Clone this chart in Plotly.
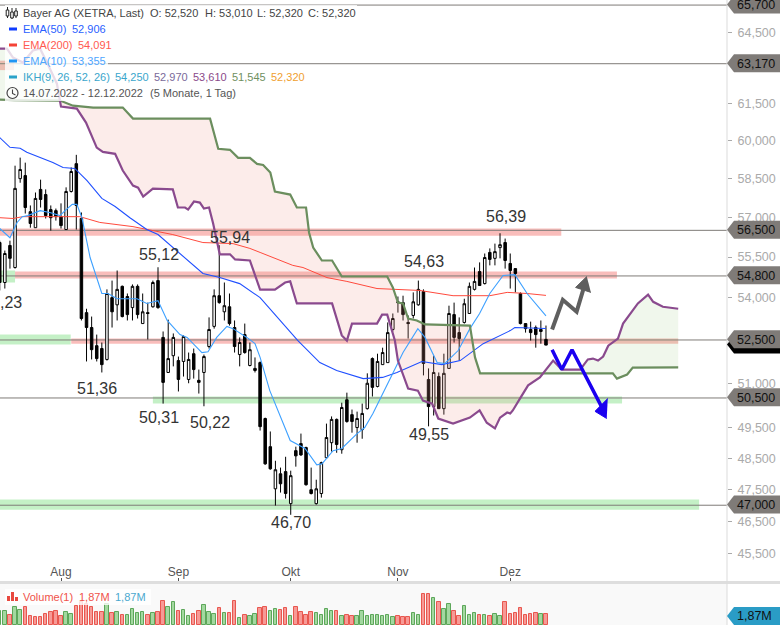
import plotly.graph_objects as go
import numpy as np

W, H = 780, 625
# ---------- OHLC (prices) ----------
opens = [56.04,54.56,55.93,55.11,58.49,58.61,57.21,56.6,58.07,57.87,57.29,57.25,57.02,56.53,57.99,59.08,56.95,53.47,52.94,52.3,
 52.2,51.82,54.01,53.75,54.42,54.05,53.65,54.42,53.08,53.47,53.68,54.63,52.59,51.37,51.95,51.78,51.75,51.13,52.02,51.1,
 51.37,52.27,52.98,54.08,53.5,53.68,52.94,51.99,52.69,51.61,51.51,51.71,49.81,48.88,47.52,48.0,48.07,47.05,48.75,48.98,
 48.85,47.49,47.05,47.37,48.52,49.01,49.78,48.78,50.44,49.94,49.51,49.44,50.14,51.85,50.89,51.64,51.71,52.87,53.86,53.83,
 53.12,53.37,53.75,54.23,51.13,50.21,51.23,50.14,51.51,53.4,52.76,53.12,53.44,54.31,54.96,54.52,55.67,55.45,55.85,56.04,
 55.26,55.07,54.16,53.08,52.87,52.94,52.87,52.52]
highs = [56.11,55.74,56.11,59.0,59.32,59.12,57.45,57.95,58.45,58.07,57.45,57.33,57.53,58.15,58.93,59.43,57.18,53.61,53.33,52.69,
 52.41,54.31,54.63,55.0,54.45,54.16,54.49,54.49,54.16,53.83,54.63,55.12,52.8,53.22,52.73,51.92,52.66,52.06,52.2,51.47,
 51.99,53.3,54.31,55.94,54.56,54.16,53.19,52.59,53.08,52.41,51.89,51.75,49.84,49.38,48.42,48.2,48.55,48.1,48.88,49.31,
 48.88,48.2,47.81,48.39,49.64,49.88,49.81,50.34,50.68,50.11,50.04,50.31,51.34,51.89,52.02,52.23,53.12,53.44,54.05,54.08,
 53.37,54.2,54.63,54.31,51.51,51.95,51.37,52.02,53.72,53.83,53.3,53.97,54.56,55.11,55.3,55.63,55.82,56.0,56.39,56.19,
 55.63,55.07,54.2,53.08,53.15,53.01,53.19,53.01]
lows = [54.27,54.34,55.07,55.07,58.33,57.14,56.6,56.6,57.37,56.95,56.49,56.87,56.57,56.53,57.95,56.53,53.19,51.75,51.82,51.75,
 51.37,51.78,52.94,53.19,53.3,53.19,53.19,53.26,53.08,52.52,53.65,53.61,50.31,51.37,51.58,50.72,51.23,51.0,51.16,50.65,
 50.22,52.2,52.9,53.79,53.19,53.01,52.06,51.58,52.02,51.58,51.37,49.41,48.29,48.13,46.99,47.4,47.21,46.7,48.23,48.58,
 47.62,47.34,47.02,47.24,48.49,48.72,48.68,48.65,49.67,49.34,49.01,49.14,50.11,50.55,50.86,51.64,51.71,52.8,53.47,53.19,
 52.55,53.26,53.72,51.27,49.55,49.91,50.14,49.94,51.51,52.41,51.78,53.08,53.44,54.27,54.45,54.49,55.19,55.19,55.45,55.07,
 54.34,54.2,53.05,52.76,52.48,52.23,52.37,52.32]
closes = [54.56,55.63,55.45,58.11,58.85,57.37,56.76,57.72,57.68,57.06,56.98,57.02,56.68,57.99,58.77,57.45,53.26,52.94,52.16,51.85,
 51.64,54.16,53.5,54.31,53.33,53.4,54.42,53.4,53.5,53.44,54.56,53.65,51.03,51.85,52.59,51.13,52.62,51.82,51.47,51.03,
 51.92,52.87,54.08,53.83,53.72,53.08,52.27,52.41,52.06,52.16,51.44,49.54,48.32,48.16,48.13,47.68,47.37,47.94,48.58,48.61,
 47.65,47.37,47.52,48.36,49.18,49.78,48.95,50.18,49.71,49.71,49.81,49.98,51.0,50.86,51.75,52.06,52.76,53.26,53.83,53.4,
 53.08,53.86,54.31,51.68,50.21,51.37,50.14,51.34,53.44,52.59,52.55,53.79,54.42,54.6,54.45,55.48,55.41,55.7,55.96,55.37,
 55.0,54.89,53.08,52.9,52.76,52.69,52.8,52.32]
volumes = [2.45,2.45,1.75,3.10,2.63,3.10,1.58,1.34,1.34,1.87,2.28,2.45,1.58,2.28,1.93,3.33,4.09,3.62,3.10,2.28,
 2.28,3.62,2.10,2.28,1.75,1.75,2.74,2.04,2.28,1.75,2.04,2.28,4.20,3.15,3.97,2.39,2.63,1.58,1.93,2.39,
 3.50,2.28,1.93,2.98,2.10,2.10,4.20,1.17,1.75,1.58,1.93,2.98,3.15,2.45,2.80,2.63,2.98,1.58,3.15,2.28,
 1.75,2.28,2.10,1.75,2.80,2.45,2.45,1.58,1.75,1.58,1.58,2.45,1.58,1.75,1.75,1.58,1.75,1.40,1.58,1.34,
 1.34,2.04,1.75,5.37,5.37,4.67,3.97,2.74,3.62,2.39,1.58,3.27,1.75,2.04,1.75,1.75,1.58,1.93,1.58,3.97,
 1.87,2.04,2.92,1.75,1.93,2.04,1.87,1.87]
volume_dir = "GGRGGRRRRRRRRGGRRRRRRGRGRGGGGRGRRGGRGGRRGGGRGRRGRGGRRGGRRGRRRRGGGGRGRRGGGGGGGGRRRGGRRGRGGRRGGGRGRGGRRRRRRRGR"

# ---------- moving averages (bar index, price) ----------
ema50_i = [0,2,4,5.3,10.4,12.4,14.7,17.1,20,22.6,25.5,28.8,31,32.8,35.9,39.8,43.1,47,51,54.9,58.4,62.7,66,71.2,75,77.8,82.7,86.6,90.2,94.7,100,100.9,107]
ema50_p = [60.12,59.73,59.69,59.53,59.13,58.93,58.89,58.41,57.72,57.41,56.98,56.53,56.34,56.04,55.56,54.89,54.74,54.52,54.01,53.19,52.48,51.71,51.44,51.16,51.2,51.37,51.75,51.64,51.78,52.37,52.83,52.94,52.906]
ema200_i = [0,2.6,4.5,15.7,19.6,26.1,33.9,39.8,45.7,49,51,57.4,59.4,64.1,68,73.9,82.3,88.8,96,99.4,103.3,107]
ema200_p = [56.98,56.95,57.02,57.02,56.8,56.64,56.34,56.04,56.0,55.82,55.67,55.19,55.11,54.74,54.6,54.34,54.27,54.08,54.08,54.2,54.16,54.091]
ema10_i = [0,2,3.4,4.4,5.5,7.9,9.8,11.8,12.8,14.2,15.1,16.1,17.7,20,21.2,23,24.9,26.9,28.8,31,32.8,35.3,36.7,39.6,40.8,42.5,44.5,45.7,48.4,50,51,52.9,56.9,59.8,62.1,63.1,65.3,67,70,71.5,73.1,75.1,77,79,81.9,83.3,85.7,87.2,89.8,92.1,94,96,98.6,100.9,103.3,107]
ema10_p = [56.57,56.22,56.8,57.02,57.06,57.25,57.18,57.06,57.25,57.49,57.49,56.98,55.48,54.16,54.16,53.97,53.97,53.97,53.8,53.9,53.19,52.69,52.59,52.06,52.09,52.59,52.98,52.9,52.59,52.37,51.89,50.75,49.08,48.82,48.29,48.32,48.75,48.82,49.31,49.51,49.98,50.65,51.34,52.06,52.9,52.59,51.71,51.68,52.13,52.9,53.44,54.16,54.82,54.85,54.16,53.355]

# ---------- Ichimoku cloud edges ----------
span_a_i = [0,1.42,2.6,4.56,6.5,7.9,9.26,11.2,12,15.1,16.9,19,20.2,22.6,24.1,26.1,27.1,28.1,30,33.9,34.9,36.3,36.9,38.05,39.2,40,41,41.8,43.1,45.1,46.1,49,51,53.9,55.9,56.9,58.2,65.1,67,68,69,73.9,74.9,75.9,77.4,78,80,81.9,82.9,84.7,85.9,88.8,92.1,94,95.4,97,98,99.4,100,100.5,101.9,103.5,105.8,108.4,110.1,113.7,115.2,116.2,117.2,118.2,119.2,121.1,122.1,125,127,128,129.9,132.9]
span_a_p = [63.81,63.81,63.43,63.22,63.73,63.81,63.22,62.33,61.38,61.3,60.73,59.72,59.55,59.47,58.81,58.22,58.14,57.79,58.1,58.07,57.37,57.37,57.29,57.6,57.56,57.33,57.37,56.76,55.6,55.6,55.41,55.37,54.3,54.3,54.56,54.6,53.8,53.8,52.66,52.48,53.08,53.08,53.4,53.4,52.48,51.78,50.82,50.75,50.41,50.31,49.81,49.64,49.84,50.08,49.67,49.48,49.84,50.01,49.98,50.08,50.48,50.93,51.2,51.78,51.47,51.47,51.82,51.85,51.78,51.92,52.3,52.55,53.08,53.8,54.12,53.86,53.68,53.61]
span_b_i = [0,2.9,11.8,14.35,18.3,24.1,26.1,41.2,42.8,45.1,46.7,49,50.4,51.6,53,53.9,56.9,58.2,60,60.6,61.4,63.1,65.1,67,75.9,77,78,79,80,81.7,83.3,92.1,93.1,94.1,120.1,120.9,122.9,124,132.9]
span_b_p = [61.67,61.65,61.63,61.42,61.34,61.34,60.89,60.89,59.67,59.63,59.31,59.31,59.07,59.03,58.73,57.99,57.87,57.37,57.37,56.41,55.85,55.37,55.37,54.78,54.78,54.38,53.83,53.8,53.26,53.19,53.05,53.01,51.89,51.34,51.34,51.16,51.3,51.54,51.545]

# ---------- price levels and zones ----------
level_prices = [65.7,63.17,56.5,54.8,52.5,50.5,47.0]
level_text = ["65,700","63,170","56,500","54,800","52,500","50,500","47,000"]
zone_from = [0,0,3,0,14,30,0]
zone_to = [2.8,110,120.9,3,132.9,121.9,137]
zone_low = [62.9,56.3,54.71,54.56,52.37,50.31,46.86]
zone_high = [63.3,56.57,54.96,55.0,52.55,50.55,47.18]
zone_kind = ["r","r","r","g","r","g","g"]
zone2_from, zone2_to, zone2_low, zone2_high = 0,13.9,52.34,52.69

# ---------- marked extremes ----------
extreme_text = ["56,39","55,94","55,12","54,63","51,36","50,31","50,22","49,55","46,70"]
extreme_px = [(506,216),(230,237),(159,255),(424,261),(97,389),(159,417),(210,422),(429,435),(291,522)]

# ---------- axes ----------
y_ticks = [64.5,61.5,60,58.5,57,55.5,54,51,49.5,48.5,47.5,46.5,45.5]
y_tick_text = ["64,500","61,500","60,000","58,500","57,000","55,500","54,000","51,000","49,500","48,500","47,500","46,500","45,500"]
x_ticks = [12,35,57,78,100]
x_tick_text = ["Aug","Sep","Okt","Nov","Dez"]

# ---------- hand-drawn arrows ----------
up_i = [108.2,110.3,113,114.3]
up_p = [52.87,53.93,53.5,54.3]
up_head_i = [115,112.8,115.8]
up_head_p = [54.78,54.38,54.2]
down_i = [108.2,110.1,112.1,117.9]
down_p = [52.16,51.47,52.16,50.2]
down_head_i = [118.9,116.6,119.1]
down_head_p = [49.81,50.05,50.48]

FONT = "Liberation Sans"
px = lambda x: x / W
py = lambda y: 1 - y / H
xr = [0.051, 142.46]
ar = np.arange(len(closes))
fig = go.Figure()

fig.add_trace(go.Candlestick(x=ar, open=opens, high=highs, low=lows, close=closes, xaxis="x", yaxis="y",
    increasing=dict(line=dict(color="#000", width=1), fillcolor="#fff"),
    decreasing=dict(line=dict(color="#000", width=1), fillcolor="#000"),
    whiskerwidth=0, showlegend=False, hoverinfo="skip"))

# cloud fills
grid = np.arange(0, 132.91, 0.1)
la = np.interp(grid, span_a_i, np.log(span_a_p))
lb = np.interp(grid, span_b_i, np.log(span_b_p))
sign = la > lb
start = 0
for k in range(1, len(grid) + 1):
    if k == len(grid) or sign[k] != sign[start]:
        e = min(k + 1, len(grid))
        xs = np.concatenate([grid[start:e], grid[start:e][::-1]])
        ys = np.exp(np.concatenate([la[start:e], lb[start:e][::-1]]))
        col = "rgba(150,200,120,0.14)" if sign[start] else "rgba(240,150,140,0.18)"
        fig.add_trace(go.Scatter(x=xs, y=ys, mode="lines", fill="toself", fillcolor=col, line=dict(width=0), showlegend=False, hoverinfo="skip"))
        start = k

for xs, ys, c, w in [(ema200_i, ema200_p, "#ff4a3d", 1), (ema50_i, ema50_p, "#1f4fff", 1.1), (ema10_i, ema10_p, "#3da0ff", 1.1),
                     (span_b_i, span_b_p, "#6b8e5e", 2.2), (span_a_i, span_a_p, "#8a4a8e", 2.2)]:
    fig.add_trace(go.Scatter(x=xs, y=ys, mode="lines", line=dict(color=c, width=w), showlegend=False, hoverinfo="skip"))

fig.add_trace(go.Scatter(x=up_i, y=up_p, mode="lines", line=dict(color="#5f5f5f", width=4), showlegend=False, hoverinfo="skip"))
fig.add_trace(go.Scatter(x=up_head_i, y=up_head_p, mode="lines", fill="toself", fillcolor="#5f5f5f", line=dict(color="#5f5f5f", width=1), showlegend=False, hoverinfo="skip"))
fig.add_trace(go.Scatter(x=down_i, y=down_p, mode="lines", line=dict(color="#1a00f0", width=3.5), showlegend=False, hoverinfo="skip"))
fig.add_trace(go.Scatter(x=down_head_i, y=down_head_p, mode="lines", fill="toself", fillcolor="#1a00f0", line=dict(color="#1a00f0", width=1), showlegend=False, hoverinfo="skip"))

fig.add_trace(go.Bar(x=ar, y=volumes, xaxis="x2", yaxis="y2", width=0.68,
    marker=dict(color=["#a3d8a0" if d == "G" else "#f79a96" for d in volume_dir],
                line=dict(color=["#5da75a" if d == "G" else "#e8574f" for d in volume_dir], width=1)),
    showlegend=False, hoverinfo="skip"))

shapes = []
def rect(x0, y0, x1, y1, color, layer="above", line=None):
    shapes.append(dict(type="rect", xref="paper", yref="paper", x0=px(x0), x1=px(x1), y0=py(y0), y1=py(y1),
                       fillcolor=color, line=dict(width=0) if line is None else line, layer=layer))
# volume panel, separator
rect(0, 584, 727, 625, "#f9f9f9", "below")
rect(0, 581, 780, 584, "#dedede", "above")
rect(726.5, 0, 727.5, 625, "#dcdcdc", "above")

# zones and levels
for a, b, lo, hi, k in zip(zone_from, zone_to, zone_low, zone_high, zone_kind):
    shapes.append(dict(type="rect", xref="x", yref="y", x0=a, x1=b, y0=lo, y1=hi, layer="below", line=dict(width=0),
                       fillcolor="rgba(240,90,85,0.40)" if k == "r" else "rgba(100,215,105,0.38)"))
shapes.append(dict(type="rect", xref="x", yref="y", x0=zone2_from, x1=zone2_to, y0=zone2_low, y1=zone2_high, layer="below",
                   line=dict(width=0), fillcolor="rgba(100,215,105,0.38)"))
for v in level_prices:
    shapes.append(dict(type="line", xref="x", yref="y", x0=xr[0], x1=xr[1], y0=v, y1=v, layer="below", line=dict(color="#7f7b78", width=1)))

def tag(yc, color, h=18):
    t, b = yc - h / 2, yc + h / 2
    path = f"M {px(727)} {py(yc)} L {px(734)} {py(t)} L {px(780)} {py(t)} L {px(780)} {py(b)} L {px(734)} {py(b)} Z"
    shapes.append(dict(type="path", xref="paper", yref="paper", path=path, fillcolor=color, line=dict(width=0), layer="above"))

price_y = lambda p: 4.5 + 1493 * np.log(65.7 / p)
tag(price_y(52.32), "#000000")
for v in level_prices:
    tag(price_y(v), "#7f7b78")
tag(616, "#2a9cc6")

# legend row backgrounds
for yc, xe in zip([13, 29, 45, 61, 77, 93], [357, 108, 113, 108, 306, 237]):
    rect(5, yc - 8, xe, yc + 8, "rgba(255,255,255,0.8)")
rect(5, 589, 151, 605, "rgba(255,255,255,0.8)")
# icons
for yc, c in zip([29, 45, 61, 77], ["#0f3cff", "#f44336", "#2196f3", "#2aa3c9"]):
    rect(9, yc - 1.5, 17, yc + 1.5, c)
for xc, t, b, bt, bb in [(7.5, 7, 18, 10, 16), (12, 8, 19, 12, 18), (16, 8, 18, 11, 16)]:
    shapes.append(dict(type="line", xref="paper", yref="paper", x0=px(xc), x1=px(xc), y0=py(t), y1=py(b), line=dict(color="#222", width=1), layer="above"))
    rect(xc - 1.3, bt, xc + 1.3, bb, "#fff", line=dict(color="#222", width=1))
shapes.append(dict(type="circle", xref="paper", yref="paper", x0=px(7), x1=px(18), y0=py(87.5), y1=py(98.5), line=dict(color="#444", width=1.2), layer="above"))
shapes.append(dict(type="path", xref="paper", yref="paper", path=f"M {px(12.5)} {py(89.5)} L {px(12.5)} {py(93.5)} L {px(15.5)} {py(95)}", line=dict(color="#444", width=1.1), layer="above"))
for x0, y0 in [(7, 596), (11, 592), (15, 597)]:
    rect(x0, y0, x0 + 3, 601, "#e8483f")

ann = []
def text(x, y, s, color="#444", size=11, anchor="left"):
    ann.append(dict(xref="paper", yref="paper", x=px(x), y=py(y), text=s, showarrow=False, xanchor=anchor, yanchor="middle",
                    font=dict(family=FONT, size=size, color=color), borderpad=0, borderwidth=0))
for x, s in [(23, "Bayer AG (XETRA, Last)"), (150, "O: 52,520"), (204.5, "H: 53,010"), (257, "L: 52,320"), (308, "C: 52,320")]:
    text(x, 13, s)
text(23, 29, "EMA(50)", "#2a5fff"); text(72, 29, "52,906", "#2a5fff")
text(23, 45, "EMA(200)", "#ff5a50"); text(78, 45, "54,091", "#ff5a50")
text(23, 61, "EMA(10)", "#4da6ff"); text(72, 61, "53,355", "#4da6ff")
text(23, 77, "IKH(9, 26, 52, 26)", "#3aa6cc")
for x, s, c in [(115, "54,250", "#3aa6cc"), (154, "52,970", "#7a6a9a"), (193, "53,610", "#8a4a8a"), (232, "51,545", "#6f9060"), (271, "52,320", "#f0a030")]:
    text(x, 77, s, c)
text(23, 93, "14.07.2022 - 12.12.2022", "#555"); text(150, 93, "(5 Monate, 1 Tag)", "#555")
text(23, 597, "Volume(1)", "#f0524a"); text(79, 597, "1,87M", "#f0524a"); text(115, 597, "1,87M", "#4aa8cf")
for (x, y), s in zip(extreme_px, extreme_text):
    text(x, y, s, "#333", 16, "center")
text(0, 302, ",23", "#333", 16)
for v, s in zip(level_prices, level_text):
    text(737, price_y(v) + 0.6, s, "#111", 12.5)
text(737, 616, "1,87M", "#111", 12.5)

fig.update_layout(
    width=W, height=H, margin=dict(l=0, r=0, t=0, b=0), paper_bgcolor="#fff", plot_bgcolor="rgba(0,0,0,0)",
    showlegend=False, shapes=shapes, annotations=ann, bargap=0,
    xaxis=dict(domain=[0, 727 / W], range=xr, tickvals=x_ticks, ticktext=x_tick_text, ticks="inside", ticklen=3, tickcolor="#555",
               ticklabelposition="inside", ticklabelstandoff=-1, tickfont=dict(family=FONT, size=12, color="#555"),
               showgrid=False, zeroline=False, showline=False, rangeslider=dict(visible=False), anchor="y", fixedrange=True),
    yaxis=dict(domain=[44 / H, 1], type="log", range=[1.65006, 1.81904], side="right", anchor="x",
               tickvals=y_ticks, ticktext=y_tick_text, ticks="outside", ticklen=4, tickcolor="#aaa", ticklabelstandoff=3,
               tickfont=dict(family=FONT, size=12.5, color="#aaa"), showgrid=False, zeroline=False, showline=False, fixedrange=True),
    xaxis2=dict(domain=[0, 727 / W], range=xr, visible=False, anchor="y2", fixedrange=True),
    yaxis2=dict(domain=[0, 41 / H], range=[0, 7.2], visible=False, anchor="x2", fixedrange=True),
)
fig.write_html("out.html", config=dict(displayModeBar=False),
               post_script="document.body.style.margin='0';document.documentElement.style.overflow='hidden';")
